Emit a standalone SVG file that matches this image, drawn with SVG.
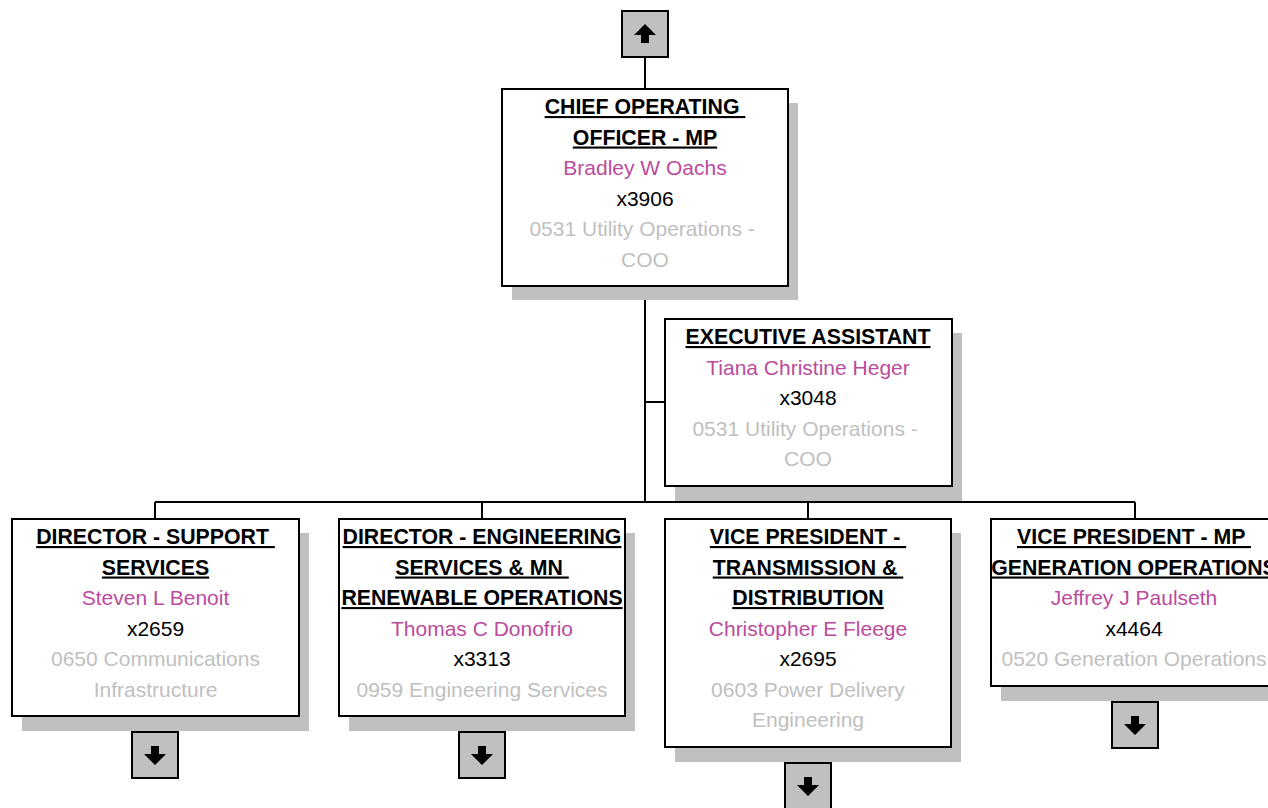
<svg xmlns="http://www.w3.org/2000/svg" width="1268" height="808" viewBox="0 0 1268 808">
<defs>
<style>
text{font-family:"Liberation Sans",Arial,sans-serif;font-size:21px;text-anchor:middle}
.t{font-weight:bold;fill:#000;text-decoration:underline;font-size:21.3px}
.n{fill:#bb4b9d}
.x{fill:#000}
.d{fill:#c0c0c0}
.box{fill:#fff;stroke:#000;stroke-width:2}
.sh{fill:#c0c0c0}
.ab{fill:#c0c0c0;stroke:#000;stroke-width:2}
.ar{fill:#000}
.c{stroke:#000;stroke-width:2;fill:none}
</style>
</defs>
<rect width="1268" height="808" fill="#fff"/>
<g id="connectors">
<path class="c" d="M645 57V89M645 286V502M645 402H665M155 502H1135M155 502V519M482 502V519M808 502V519M1135 502V519M155 716V732M482 716V732M808 747V763M1135 686V702"/>
</g>
<g id="up-arrow">
<rect class="ab" x="622" y="11" width="46" height="46"/>
<path class="ar" d="M645 24L656 35H649V43H641V35H634Z"/>
</g>
<g id="coo">
<rect class="sh" x="512" y="103" width="286" height="197"/>
<rect class="box" x="502" y="89" width="286" height="197"/>
<text xml:space="preserve" class="t" x="645" y="114">CHIEF OPERATING </text>
<text class="t" x="645" y="144.5">OFFICER - MP</text>
<text class="n" x="645" y="175">Bradley W Oachs</text>
<text class="x" x="645" y="205.5">x3906</text>
<text xml:space="preserve" class="d" x="645" y="236">0531 Utility Operations - </text>
<text class="d" x="645" y="266.5">COO</text>
</g>
<g id="exec-assistant">
<rect class="sh" x="675" y="333" width="287" height="168"/>
<rect class="box" x="665" y="319" width="287" height="167"/>
<text class="t" x="808" y="344">EXECUTIVE ASSISTANT</text>
<text class="n" x="808" y="374.5">Tiana Christine Heger</text>
<text class="x" x="808" y="405">x3048</text>
<text xml:space="preserve" class="d" x="808" y="435.5">0531 Utility Operations - </text>
<text class="d" x="808" y="466">COO</text>
</g>
<g id="dir-support">
<rect class="sh" x="22" y="533" width="287" height="198"/>
<rect class="box" x="12" y="519" width="287" height="197"/>
<text xml:space="preserve" class="t" x="155.5" y="544">DIRECTOR - SUPPORT </text>
<text class="t" x="155.5" y="574.5">SERVICES</text>
<text class="n" x="155.5" y="605">Steven L Benoit</text>
<text class="x" x="155.5" y="635.5">x2659</text>
<text class="d" x="155.5" y="666">0650 Communications</text>
<text class="d" x="155.5" y="696.5">Infrastructure</text>
</g>
<g id="dir-support-down">
<rect class="ab" x="132" y="732" width="46" height="46"/>
<path class="ar" d="M155 765L166 754H159V746H151V754H144Z"/>
</g>
<g id="dir-engineering">
<rect class="sh" x="349" y="533" width="286" height="198"/>
<rect class="box" x="339" y="519" width="286" height="197"/>
<text class="t" x="482" y="544">DIRECTOR - ENGINEERING</text>
<text xml:space="preserve" class="t" x="482" y="574.5">SERVICES &amp; MN </text>
<text class="t" x="482" y="605">RENEWABLE OPERATIONS</text>
<text class="n" x="482" y="635.5">Thomas C Donofrio</text>
<text class="x" x="482" y="666">x3313</text>
<text class="d" x="482" y="696.5">0959 Engineering Services</text>
</g>
<g id="dir-engineering-down">
<rect class="ab" x="459" y="732" width="46" height="46"/>
<path class="ar" d="M482 765L493 754H486V746H478V754H471Z"/>
</g>
<g id="vp-td">
<rect class="sh" x="675" y="533" width="286" height="229"/>
<rect class="box" x="665" y="519" width="286" height="228"/>
<text xml:space="preserve" class="t" x="808" y="544">VICE PRESIDENT - </text>
<text xml:space="preserve" class="t" x="808" y="574.5">TRANSMISSION &amp; </text>
<text class="t" x="808" y="605">DISTRIBUTION</text>
<text class="n" x="808" y="635.5">Christopher E Fleege</text>
<text class="x" x="808" y="666">x2695</text>
<text class="d" x="808" y="696.5">0603 Power Delivery</text>
<text class="d" x="808" y="727">Engineering</text>
</g>
<g id="vp-td-down">
<rect class="ab" x="785" y="763" width="46" height="46"/>
<path class="ar" d="M808 796L819 785H812V777H804V785H797Z"/>
</g>
<g id="vp-gen">
<rect class="sh" x="1001" y="533" width="286" height="168"/>
<rect class="box" x="991" y="519" width="286" height="167"/>
<text xml:space="preserve" class="t" x="1134" y="544">VICE PRESIDENT - MP </text>
<text class="t" x="1134" y="574.5">GENERATION OPERATIONS</text>
<text class="n" x="1134" y="605">Jeffrey J Paulseth</text>
<text class="x" x="1134" y="635.5">x4464</text>
<text class="d" x="1134" y="666">0520 Generation Operations</text>
</g>
<g id="vp-gen-down">
<rect class="ab" x="1112" y="702" width="46" height="46"/>
<path class="ar" d="M1135 735L1146 724H1139V716H1131V724H1124Z"/>
</g>
</svg>
